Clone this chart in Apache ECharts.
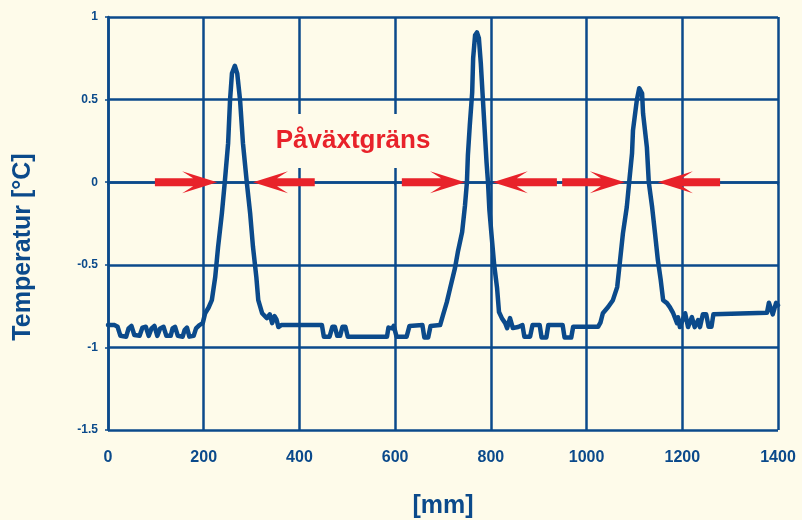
<!DOCTYPE html>
<html>
<head>
<meta charset="utf-8">
<script src="https://cdn.jsdelivr.net/npm/echarts@6/dist/echarts.min.js"></script>
<style>html,body{margin:0;padding:0;background:#FEFBEA;}#c{width:802px;height:520px;}</style>
</head>
<body>
<div id="c"></div>
<script>
// Position along the profile [mm]
var xs = [0,14,20,26,38,43,49,55,66,72,79,85,91,97,103,109,116,122,131,135,140,146,156,160,165,170,179,184,191,198,203,210,217,224,230,238,244,251,255,259,265,270,276,282,290,297,303,310,314,322,332,338,343,348,352,356,362,447,451,463,469,474,479,485,490,496,501,516,520,583,586,590,594,597,603,624,630,657,661,669,674,694,700,708,715,725,731,740,746,750,752,756,761,763,767,771,775,779,783,787,791,794,797,802,807,813,817,823,830,834,840,846,857,866,870,882,887,902,906,916,920,950,954,968,972,1024,1029,1034,1045,1055,1064,1070,1076,1084,1089,1095,1097,1105,1110,1116,1118,1126,1130,1137,1143,1149,1155,1160,1168,1174,1181,1189,1191,1195,1206,1212,1220,1226,1233,1237,1243,1250,1255,1261,1265,1377,1381,1389,1396,1400];
// Temperature [°C]
var temps = [-0.865,-0.865,-0.875,-0.93,-0.935,-0.885,-0.87,-0.925,-0.93,-0.88,-0.875,-0.93,-0.885,-0.87,-0.93,-0.885,-0.875,-0.93,-0.93,-0.885,-0.875,-0.93,-0.935,-0.895,-0.88,-0.935,-0.93,-0.885,-0.865,-0.853,-0.793,-0.76,-0.714,-0.575,-0.393,-0.188,0,0.236,0.496,0.659,0.705,0.659,0.496,0.236,0,-0.188,-0.393,-0.575,-0.714,-0.793,-0.823,-0.80,-0.853,-0.81,-0.83,-0.877,-0.865,-0.865,-0.935,-0.935,-0.875,-0.875,-0.93,-0.93,-0.875,-0.875,-0.935,-0.935,-0.93,-0.935,-0.88,-0.87,-0.885,-0.87,-0.935,-0.935,-0.87,-0.865,-0.94,-0.94,-0.87,-0.865,-0.805,-0.726,-0.641,-0.52,-0.423,-0.302,-0.139,0,0.163,0.345,0.544,0.75,0.889,0.907,0.871,0.72,0.52,0.32,0.12,0,-0.17,-0.339,-0.502,-0.641,-0.786,-0.823,-0.853,-0.883,-0.823,-0.883,-0.877,-0.865,-0.935,-0.935,-0.865,-0.865,-0.94,-0.94,-0.865,-0.865,-0.94,-0.94,-0.875,-0.875,-0.85,-0.793,-0.756,-0.714,-0.635,-0.472,-0.309,-0.151,0,0.175,0.315,0.496,0.569,0.538,0.417,0.212,0,-0.151,-0.309,-0.472,-0.593,-0.714,-0.732,-0.756,-0.793,-0.853,-0.817,-0.877,-0.793,-0.877,-0.817,-0.877,-0.835,-0.877,-0.80,-0.80,-0.875,-0.875,-0.80,-0.79,-0.73,-0.80,-0.73,-0.745];
// Arrows: tail x, tip x, y level
var arrowTail = [98, 432, 614, 938, 949, 1279];
var arrowTip  = [228, 303, 746, 804, 1080, 1149];
var arrowY    = [0, 0, 0, 0, 0, 0];
// Annotation
var noteText = 'Påväxtgräns';
var noteX = 512;
var noteY = 0.25;
// Axis ticks
var xMin = 0, xMax = 1400, xStep = 200;
var yMin = -1.5, yMax = 1, yStep = 0.5;
var yTitle = 'Temperatur [°C]';
var xTitle = '[mm]';

var blue = '#0B4A8B';
var red = '#E8222A';
var bg = '#FEFBEA';

var lineData = xs.map(function (x, i) { return [x, temps[i]]; });
var arrowData = arrowTail.map(function (t, i) { return [t, arrowTip[i], arrowY[i]]; });

var chart = echarts.init(document.getElementById('c'));
chart.setOption({
  backgroundColor: bg,
  animation: false,
  grid: { left: 108, right: 24, top: 17, bottom: 90, containLabel: false, outerBoundsMode: 'none' },
  graphic: [{
    type: 'text', x: 23, y: 247, rotation: Math.PI / 2,
    style: {
      text: yTitle, fill: blue,
      font: 'bold 25px "Liberation Sans", Arial, sans-serif',
      align: 'center', verticalAlign: 'middle'
    }
  }],
  xAxis: {
    type: 'value', min: xMin, max: xMax, interval: xStep,
    name: xTitle, nameLocation: 'middle', nameGap: 64,
    nameTextStyle: { color: blue, fontFamily: 'Liberation Sans', fontWeight: 'bold', fontSize: 25 },
    axisLine: { show: true, lineStyle: { color: blue, width: 2.5 } },
    axisTick: { show: true, length: 3, lineStyle: { color: blue, width: 1.5 } },
    axisLabel: { color: blue, fontFamily: 'Liberation Sans', fontWeight: 'bold', fontSize: 16, margin: 20,
      formatter: function (v) { return String(v); } },
    splitLine: { show: true, lineStyle: { color: blue, width: 2.5 } }
  },
  yAxis: {
    type: 'value', min: yMin, max: yMax, interval: yStep,
    axisLine: { show: true, lineStyle: { color: blue, width: 2.5 } },
    axisTick: { show: true, length: 3, lineStyle: { color: blue, width: 1.5 } },
    axisLabel: { color: blue, fontFamily: 'Liberation Sans', fontWeight: 'bold', fontSize: 12, margin: 10 },
    splitLine: { show: true, lineStyle: { color: blue, width: 2.5 } }
  },
  series: [
    {
      type: 'custom',
      z: 3,
      data: [[noteX, noteY]],
      renderItem: function (params, api) {
        var p = api.coord([api.value(0), api.value(1)]);
        return {
          type: 'text',
          x: p[0], y: p[1],
          style: {
            text: noteText, fill: red,
            font: 'bold 26px "Liberation Sans", Arial, sans-serif',
            align: 'center', verticalAlign: 'middle',
            backgroundColor: bg, padding: [14, 12]
          }
        };
      }
    },
    {
      type: 'line',
      z: 4,
      data: lineData,
      showSymbol: false,
      symbol: 'none',
      lineStyle: { color: blue, width: 4.5, join: 'round', cap: 'round' }
    },
    {
      type: 'custom',
      z: 5,
      data: arrowData,
      renderItem: function (params, api) {
        var y = api.value(2);
        var a = api.coord([api.value(0), y]);
        var b = api.coord([api.value(1), y]);
        var d = b[0] > a[0] ? 1 : -1;
        var tx = b[0], ty = b[1];
        var pts = [
          [tx, ty],
          [tx - d * 35, ty - 11],
          [tx - d * 24, ty - 4],
          [a[0], ty - 4],
          [a[0], ty + 4],
          [tx - d * 24, ty + 4],
          [tx - d * 35, ty + 11]
        ];
        return { type: 'polygon', shape: { points: pts }, style: { fill: red } };
      }
    }
  ]
});
</script>
</body>
</html>
